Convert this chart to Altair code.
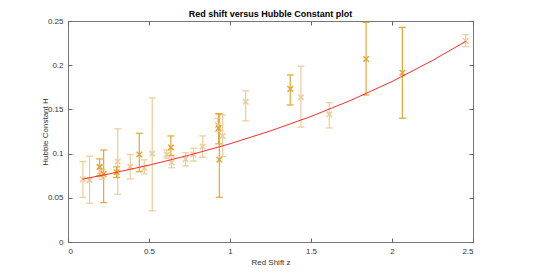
import altair as alt
import pandas as pd

# Dark-orange series: red shift, H, error low, error high
dark_z = [0.195, 0.22, 0.30, 0.44, 0.635, 0.93, 0.934, 1.372, 1.84, 2.064]
dark_h = [0.085, 0.077, 0.079, 0.099, 0.107, 0.129, 0.093, 0.173, 0.207, 0.1915]
dark_lo = [0.075, 0.0445, 0.073, 0.0795, 0.098, 0.111, 0.0506, 0.155, 0.1663, 0.140]
dark_hi = [0.094, 0.104, 0.085, 0.123, 0.120, 0.145, 0.145, 0.189, 0.2485, 0.2428]

# Light (tan) series
light_z = [0.092, 0.133, 0.20, 0.21, 0.307, 0.384, 0.471, 0.52, 0.61, 0.64,
           0.726, 0.775, 0.831, 0.925, 0.955, 1.097, 1.438, 1.613, 2.455]
light_h = [0.071, 0.070, 0.080, 0.076, 0.091, 0.085, 0.084, 0.100, 0.099, 0.090,
           0.0935, 0.099, 0.108, 0.132, 0.120, 0.1587, 0.1637, 0.1444, 0.2274]
light_lo = [0.0505, 0.0438, 0.074, 0.071, 0.054, 0.0713, 0.077, 0.0354, 0.095, 0.084,
            0.086, 0.0916, 0.0958, 0.125, 0.0965, 0.137, 0.130, 0.129, 0.221]
light_hi = [0.091, 0.097, 0.087, 0.082, 0.128, 0.099, 0.093, 0.163, 0.104, 0.096,
            0.101, 0.106, 0.120, 0.140, 0.1437, 0.171, 0.199, 0.1576, 0.2345]

# Fitted curve
fit_z = [0.09, 0.25, 0.5, 0.75, 1.0, 1.25, 1.5, 1.75, 2.0, 2.25, 2.455]
fit_h = [0.0711, 0.0769, 0.0869, 0.0983, 0.1111, 0.1257, 0.1420, 0.1606, 0.1815, 0.2053, 0.227]

x_ticks = [0, 0.5, 1, 1.5, 2, 2.5]
y_ticks = [0, 0.05, 0.1, 0.15, 0.2, 0.25]

DARK = "#E3A632"
LIGHT = "#EBCC98"
FONT = "Liberation Sans"

rows = []
for z, h, lo, hi in zip(light_z, light_h, light_lo, light_hi):
    rows.append({"z": z, "h": h, "lo": lo, "hi": hi, "series": "light"})
for z, h, lo, hi in zip(dark_z, dark_h, dark_lo, dark_hi):
    rows.append({"z": z, "h": h, "lo": lo, "hi": hi, "series": "dark"})
df = pd.DataFrame(rows)
fit = pd.DataFrame({"z": fit_z, "h": fit_h})

xs = alt.Scale(domain=[0, 2.5], nice=False, zero=False)
ys = alt.Scale(domain=[0, 0.25], nice=False, zero=False)
col = alt.Color("series:N", scale=alt.Scale(domain=["dark", "light"], range=[DARK, LIGHT]), legend=None)

x_axis = alt.Axis(values=x_ticks, orient="bottom", offset=-4, tickSize=4, domain=False, grid=False,
                  labelPadding=5, labelExpr="'' + datum.value", title="Red Shift z",
                  titlePadding=3)
y_axis = alt.Axis(values=y_ticks, orient="left", offset=-4, tickSize=4, domain=False, grid=False,
                  labelPadding=5, labelExpr="'' + datum.value", title="Hubble Constant H",
                  titlePadding=-2)
x_top = alt.Axis(values=x_ticks, orient="top", offset=-4, tickSize=4, domain=False, grid=False,
                 labels=False, title=None)
y_right = alt.Axis(values=y_ticks, orient="right", offset=-4, tickSize=4, domain=False, grid=False,
                   labels=False, title=None)

base = alt.Chart(df)

rules = base.mark_rule(strokeWidth=1.2).encode(
    x=alt.X("z:Q", scale=xs, axis=x_axis),
    y=alt.Y("lo:Q", scale=ys, axis=y_axis),
    y2="hi:Q",
    color=col,
)
cap_lo = base.mark_point(shape="M-1,0L1,0", size=49, strokeWidth=1.2, filled=False, opacity=1).encode(
    x=alt.X("z:Q", scale=xs, axis=None), y=alt.Y("lo:Q", scale=ys, axis=None), color=col)
cap_hi = base.mark_point(shape="M-1,0L1,0", size=49, strokeWidth=1.2, filled=False, opacity=1).encode(
    x=alt.X("z:Q", scale=xs, axis=None), y=alt.Y("hi:Q", scale=ys, axis=None), color=col)
pts = base.mark_point(shape="M-1,-1L1,1M-1,1L1,-1", size=30, strokeWidth=1.5, filled=False, opacity=1).encode(
    x=alt.X("z:Q", scale=xs, axis=None), y=alt.Y("h:Q", scale=ys, axis=None), color=col)

line = alt.Chart(fit).mark_line(color="#FF2A2A", strokeWidth=1).encode(
    x=alt.X("z:Q", scale=xs, axis=x_top),
    y=alt.Y("h:Q", scale=ys, axis=y_right),
)

chart = alt.layer(rules, cap_lo, cap_hi, pts, line).resolve_axis(
    x="independent", y="independent"
).properties(
    width=405,
    height=221,
    title=alt.TitleParams("Red shift versus Hubble Constant plot", fontSize=9, fontWeight="bold",
                          font=FONT, color="#000000", offset=-2),
    autosize=alt.AutoSizeParams(type="none"),
    padding={"left": 60, "top": 13, "right": 64, "bottom": 30},
).configure_view(
    stroke="#777777", strokeWidth=1
).configure_axis(
    labelFont=FONT, titleFont=FONT, labelFontSize=8, titleFontSize=8,
    labelColor="#333333", titleColor="#333333", tickColor="#666666", titleFontWeight="normal",
)

chart.save("out.html", embed_options={"renderer": "svg", "actions": False})
